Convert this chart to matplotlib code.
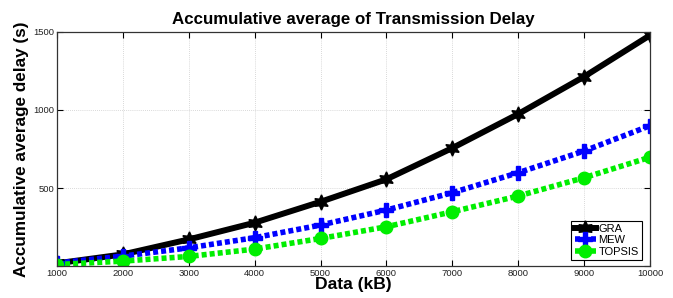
import numpy as np
import matplotlib
matplotlib.use('Agg')
import matplotlib.pyplot as plt

plt.rcParams['font.family'] = ['Liberation Sans', 'DejaVu Sans']

data_kb = [1000, 2000, 3000, 4000, 5000, 6000, 7000, 8000, 9000, 10000]
gra = [18, 75, 171, 278, 412, 556, 756, 974, 1213, 1478]
mew = [20, 64, 117, 182, 263, 359, 470, 598, 737, 899]
topsis = [10, 32, 62, 109, 177, 252, 348, 449, 566, 697]

fig = plt.figure(figsize=(6.73, 2.98), dpi=100)
ax = fig.add_axes([0.0847, 0.107, 0.881, 0.786])

dot = (0, (0.9, 0.55))
ax.plot(data_kb, gra, color='black', lw=4.3, marker=(6, 1, 0), ms=11, label='GRA')
ax.plot(data_kb, mew, color='blue', lw=4, ls=dot, marker='P', ms=10,
        dash_capstyle='butt', label='MEW')
ax.plot(data_kb, topsis, color='#00ee00', lw=4, ls=dot, marker='o', ms=9,
        dash_capstyle='butt', label='TOPSIS')

ax.set_xlim(1000, 10000)
ax.set_ylim(0, 1500)
ax.set_xticks(data_kb)
ax.set_yticks([0, 500, 1000, 1500])
ax.set_yticklabels(['', '500', '1000', '1500'])
ax.tick_params(direction='in', top=True, right=True, labelsize=6.8, length=4,
               width=0.8, pad=2, labelcolor='#222222')
ax.grid(True, color='#cccccc', ls=(0, (1, 1.5)), lw=0.6)
for s in ax.spines.values():
    s.set_linewidth(0.9)
    s.set_color('#333333')

ax.set_title('Accumulative average of Transmission Delay', fontsize=12.2,
             fontweight='bold', pad=6)
ax.set_xlabel('Data (kB)', fontsize=12.6, fontweight='bold', labelpad=-1)
ax.set_ylabel('Accumulative average delay (s)', fontsize=12.3, fontweight='bold',
              labelpad=3)

leg = ax.legend(loc='lower right', fontsize=8, fancybox=False, framealpha=1,
                edgecolor='black', handlelength=1.9, handletextpad=0.25,
                borderpad=0.3, labelspacing=0.12, borderaxespad=0,
                markerscale=1.0, bbox_to_anchor=(642 / 673, 1 - 260 / 298),
                bbox_transform=fig.transFigure)
leg.get_frame().set_linewidth(0.8)

fig.savefig('out.png', dpi=100)
